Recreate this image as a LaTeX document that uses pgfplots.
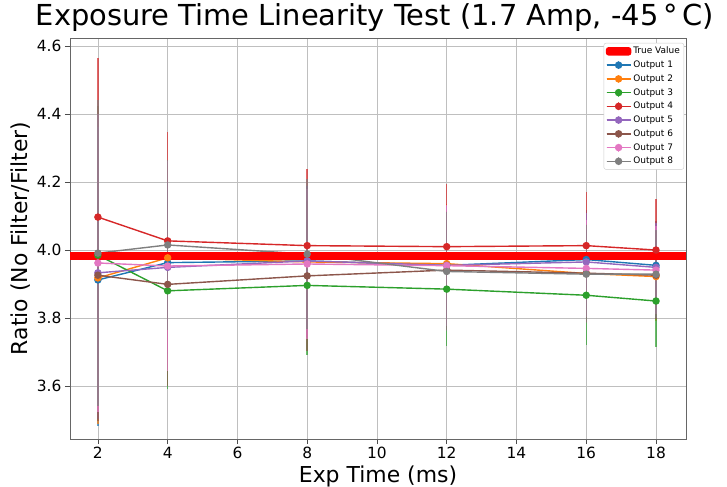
\documentclass[border=0pt]{standalone}
\usepackage{fontspec}
\setmainfont{DejaVu Sans}
\usepackage{pgfplots}
\pgfplotsset{compat=1.18}
\definecolor{c1}{HTML}{1F77B4}
\definecolor{c2}{HTML}{FF7F0E}
\definecolor{c3}{HTML}{2CA02C}
\definecolor{c4}{HTML}{D62728}
\definecolor{c5}{HTML}{9467BD}
\definecolor{c6}{HTML}{8C564B}
\definecolor{c7}{HTML}{E377C2}
\definecolor{c8}{HTML}{7F7F7F}
\pgfplotsset{ser/.style={#1, mark options={fill=#1, draw=#1}, error bars/error bar style={#1, line width=1.4bp, opacity=0.7}}}
\begin{document}
\begin{tikzpicture}
\begin{axis}[
  scale only axis, width=616bp, height=401bp,
  xmin=1.2, xmax=18.86, ymin=3.444, ymax=4.624,
  xtick={2,4,...,18}, ytick={3.6,3.8,4.0,4.2,4.4,4.6},
  /pgf/number format/assume math mode=true,
  yticklabel style={/pgf/number format/.cd, fixed, fixed zerofill, precision=1},
  ticklabel style={font=\fontsize{15.5}{18}\selectfont},
  tick align=outside, xtick pos=bottom, ytick pos=left,
  major tick length=5bp, tick style={black!70, line width=0.8bp},
  axis line style={black!60, line width=0.8bp},
  grid=major, grid style={black!25, line width=0.8bp},
  title={Exposure Time Linearity Test (1.7 Amp, -45\,°\,C)},
  title style={font=\fontsize{29}{34}\selectfont, at={(0.5,1)}, anchor=base, yshift=7bp, xshift=-3bp},
  xlabel={Exp Time (ms)}, ylabel={Ratio (No Filter/Filter)},
  label style={font=\fontsize{22}{26}\selectfont},
  legend style={at={(1,1)}, anchor=north east, xshift=-2bp, yshift=-5bp,
    font=\fontsize{9}{10}\selectfont, draw=black!20, rounded corners=2bp,
    row sep=1.6bp, inner sep=2bp},
  legend cell align=left,
  legend image code/.code={\draw[#1] (0bp,0bp) -- (24bp,0bp); \draw[#1, opacity=0.7] (12bp,-4bp) -- (12bp,4bp); \draw[#1, mark repeat=2, mark phase=2] plot coordinates {(0bp,0bp) (12bp,0bp) (24bp,0bp)};},
  every axis plot/.append style={line width=1.4bp, mark=*, mark size=3bp,
    error bars/y dir=both, error bars/y explicit, error bars/error mark=none},
]
\addlegendimage{legend image code/.code={\fill[red] (0bp,-3.5bp) rectangle (24bp,3.5bp);}}
\addlegendentry{True Value}
\addplot[ser=c1] coordinates {(2,3.912) +- (0,0.43) (4,3.963) +- (0,0.27) (8,3.968) +- (0,0.22) (12,3.955) +- (0,0.175) (16,3.972) +- (0,0.145) (18,3.955) +- (0,0.13)};
\addlegendentry{Output 1}
\addplot[ser=c2] coordinates {(2,3.918) +- (0,0.43) (4,3.977) +- (0,0.27) (8,3.965) +- (0,0.22) (12,3.960) +- (0,0.175) (16,3.931) +- (0,0.145) (18,3.922) +- (0,0.13)};
\addlegendentry{Output 2}
\addplot[ser=c3] coordinates {(2,3.985) +- (0,0.44) (4,3.880) +- (0,0.29) (8,3.896) +- (0,0.205) (12,3.885) +- (0,0.167) (16,3.867) +- (0,0.147) (18,3.850) +- (0,0.135)};
\addlegendentry{Output 3}
\addplot[ser=c4] coordinates {(2,4.097) +- (0,0.468) (4,4.027) +- (0,0.32) (8,4.013) +- (0,0.225) (12,4.010) +- (0,0.184) (16,4.013) +- (0,0.158) (18,4.000) +- (0,0.15)};
\addlegendentry{Output 4}
\addplot[ser=c5] coordinates {(2,3.933) +- (0,0.43) (4,3.949) +- (0,0.25) (8,3.968) +- (0,0.22) (12,3.955) +- (0,0.175) (16,3.965) +- (0,0.145) (18,3.949) +- (0,0.13)};
\addlegendentry{Output 5}
\addplot[ser=c6] coordinates {(2,3.926) +- (0,0.428) (4,3.899) +- (0,0.30) (8,3.924) +- (0,0.22) (12,3.941) +- (0,0.175) (16,3.932) +- (0,0.145) (18,3.926) +- (0,0.13)};
\addlegendentry{Output 6}
\addplot[ser=c7] coordinates {(2,3.962) +- (0,0.438) (4,3.953) +- (0,0.31) (8,3.959) +- (0,0.22) (12,3.954) +- (0,0.178) (16,3.946) +- (0,0.142) (18,3.941) +- (0,0.13)};
\addlegendentry{Output 7}
\addplot[ser=c8] coordinates {(2,3.991) +- (0,0.45) (4,4.015) +- (0,0.25) (8,3.988) +- (0,0.22) (12,3.937) +- (0,0.176) (16,3.929) +- (0,0.144) (18,3.929) +- (0,0.13)};
\addlegendentry{Output 8}
\addplot[red, line width=8bp, mark=none, forget plot] coordinates {(1.2,3.982) (18.86,3.982)};
\end{axis}
\path (current axis.south west) ++(-70bp,-48bp) coordinate (bbA);
\path (current axis.north east) ++(41bp,38bp) coordinate (bbB);
\pgfresetboundingbox
\path[use as bounding box] (bbA) rectangle (bbB);
\end{tikzpicture}
\end{document}
